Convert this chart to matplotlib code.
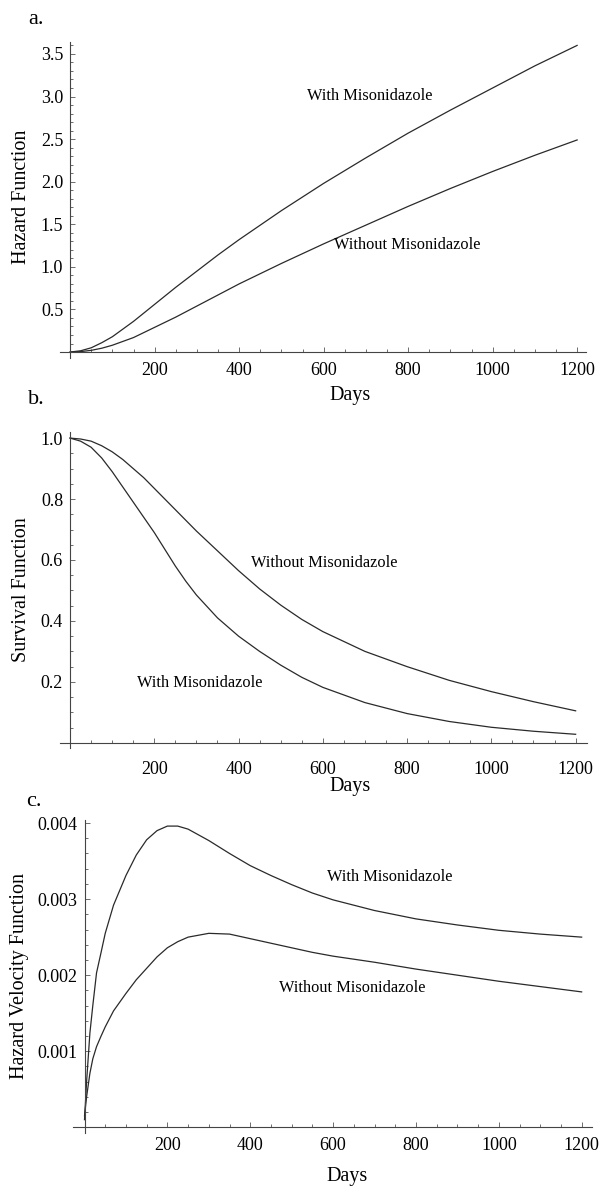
import numpy as np
import matplotlib
matplotlib.use("Agg")
import matplotlib.pyplot as plt
from matplotlib.ticker import FixedLocator, MultipleLocator, FixedFormatter

plt.rcParams['font.family'] = ['Liberation Serif', 'DejaVu Serif']

# ---- data ----
hz_days = [0, 25, 50, 75, 100, 125, 150, 175, 200, 250, 300, 350, 400, 500, 600, 700, 800, 900, 1000, 1100, 1200]
hz_with = [0, 0.015, 0.05, 0.11, 0.18, 0.27, 0.36, 0.46, 0.56, 0.76, 0.95, 1.14, 1.32,
           1.66, 1.98, 2.28, 2.57, 2.84, 3.10, 3.36, 3.60]
hz_without = [0, 0.005, 0.02, 0.045, 0.08, 0.125, 0.17, 0.23, 0.29, 0.41, 0.54, 0.67, 0.80,
              1.04, 1.27, 1.49, 1.71, 1.92, 2.12, 2.31, 2.49]

sv_days = [0, 25, 50, 75, 100, 125, 150, 175, 200, 225, 250, 275, 300, 350, 400, 450, 500, 550, 600,
           700, 800, 900, 1000, 1100, 1200]
sv_with = [1.0, 0.99, 0.97, 0.935, 0.89, 0.84, 0.79, 0.74, 0.69, 0.635, 0.58, 0.53, 0.485, 0.41, 0.35,
           0.30, 0.255, 0.215, 0.182, 0.132, 0.096, 0.07, 0.051, 0.038, 0.028]
sv_without = [1.0, 0.997, 0.99, 0.975, 0.955, 0.93, 0.90, 0.87, 0.835, 0.80, 0.765, 0.73, 0.695, 0.63,
              0.565, 0.505, 0.452, 0.405, 0.365, 0.30, 0.25, 0.205, 0.168, 0.135, 0.105]

hv_days = [0, 5, 13, 20, 29, 40, 50, 70, 100, 125, 150, 175, 200, 225, 250, 300, 350, 400, 450, 500,
           550, 600, 700, 800, 900, 1000, 1100, 1200]
hv_with = [0.0001, 0.0006, 0.00124, 0.0016, 0.00203, 0.0023, 0.00255, 0.00292, 0.00331, 0.00358,
           0.00378, 0.0039, 0.00396, 0.00396, 0.00392, 0.00377, 0.0036, 0.00344, 0.00331, 0.00319,
           0.00308, 0.00299, 0.00285, 0.00274, 0.00266, 0.00259, 0.00254, 0.0025]
hv_without = [0.00015, 0.0004, 0.00071, 0.0009, 0.00106, 0.0012, 0.00132, 0.00153, 0.00176, 0.00194,
              0.00209, 0.00224, 0.00236, 0.00244, 0.0025, 0.00255, 0.00254, 0.00248, 0.00242, 0.00236,
              0.0023, 0.00225, 0.00217, 0.00208, 0.002, 0.00192, 0.00185, 0.00178]

x_major = [200, 400, 600, 800, 1000, 1200]
a_yticks = [0.5, 1.0, 1.5, 2.0, 2.5, 3.0, 3.5]
b_yticks = [0.2, 0.4, 0.6, 0.8, 1.0]
c_yticks = [0.001, 0.002, 0.003, 0.004]

W, H = 602, 1188
fig = plt.figure(figsize=(W / 100, H / 100), dpi=100)


def px_axes(left, top, right, bottom):
    return fig.add_axes([left / W, 1 - bottom / H, (right - left) / W, (bottom - top) / H])


def ftext(x, y, s, **kw):
    fig.text(x / W, 1 - y / H, s, **kw)


def style(ax, xlim, ylim, yticks, ylabels, yminor, xpad):
    ax.set_xlim(*xlim)
    ax.set_ylim(*ylim)
    for s in ['top', 'right']:
        ax.spines[s].set_visible(False)
    ax.spines['left'].set_position(('data', 0))
    ax.spines['bottom'].set_position(('data', 0))
    for s in ['left', 'bottom']:
        ax.spines[s].set_linewidth(0.8)
        ax.spines[s].set_color('#444444')
    ax.patch.set_visible(False)
    ax.xaxis.set_major_locator(FixedLocator(x_major))
    ax.xaxis.set_minor_locator(MultipleLocator(50))
    ax.yaxis.set_major_locator(FixedLocator(yticks))
    ax.yaxis.set_major_formatter(FixedFormatter(ylabels))
    ax.yaxis.set_minor_locator(MultipleLocator(yminor))
    ax.tick_params(which='both', direction='in', color='#555555', width=0.6, labelsize=13)
    ax.tick_params(which='major', length=3.6)
    ax.tick_params(which='minor', length=2.2)
    ax.tick_params(axis='x', pad=xpad)
    ax.tick_params(axis='y', pad=5)


line_kw = dict(color='#2a2a2a', lw=0.9)

# panel a
ax1 = px_axes(60, 42, 586, 358)
ax1.plot(hz_days, hz_with, **line_kw)
ax1.plot(hz_days, hz_without, **line_kw)
style(ax1, (-24, 1221), (-0.07, 3.64), a_yticks, ['%.1f' % v for v in a_yticks], 0.1, 7)

# panel b
ax2 = px_axes(60, 432, 587, 748)
ax2.plot(sv_days, sv_with, **line_kw)
ax2.plot(sv_days, sv_without, **line_kw)
style(ax2, (-23.8, 1227), (-0.017, 1.02), b_yticks, ['%.1f' % v for v in b_yticks], 0.05, 13)

# panel c
ax3 = px_axes(73, 820, 592, 1133)
ax3.plot(hv_days, hv_with, **line_kw)
ax3.plot(hv_days, hv_without, **line_kw)
style(ax3, (-27.8, 1225), (-0.000075, 0.00404), c_yticks, ['%.3f' % v for v in c_yticks], 0.0002, 7)

# labels
lab = dict(fontsize=14.5, ha='center', va='center')
ftext(22, 197, 'Hazard Function', rotation=90, **lab)
ftext(22, 590, 'Survival Function', rotation=90, **lab)
ftext(20, 976, 'Hazard Velocity Function', rotation=90, **lab)
ftext(350, 396, 'Days', **lab)
ftext(350, 786, 'Days', **lab)
ftext(347, 1176, 'Days', **lab)

pl = dict(fontsize=16, ha='center', va='center')
ftext(36, 19, 'a.', **pl)
ftext(36, 399, 'b.', **pl)
ftext(34, 801, 'c.', **pl)

ann = dict(fontsize=11.8, ha='left', va='center')
ftext(307, 96, 'With Misonidazole', **ann)
ftext(334, 245, 'Without Misonidazole', **ann)
ftext(251, 563, 'Without Misonidazole', **ann)
ftext(137, 683, 'With Misonidazole', **ann)
ftext(327, 877, 'With Misonidazole', **ann)
ftext(279, 988, 'Without Misonidazole', **ann)

fig.savefig('out.png', dpi=100, facecolor='white')
